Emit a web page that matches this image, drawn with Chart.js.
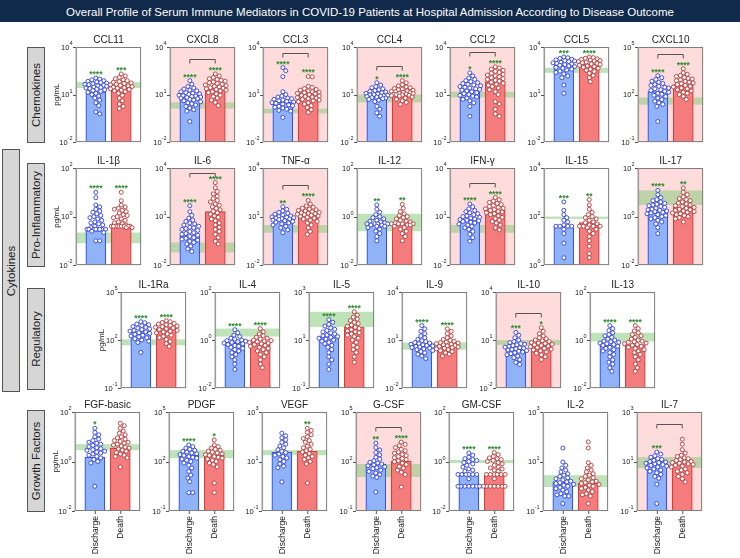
<!DOCTYPE html>
<html><head><meta charset="utf-8">
<script src="https://cdn.jsdelivr.net/npm/chart.js@4.4.0/dist/chart.umd.min.js"></script>
<style>
body{margin:0;width:740px;height:558px;position:relative;background:#fff;overflow:hidden;font-family:"Liberation Sans",Arial,sans-serif;}
#titlebar{position:absolute;left:0;top:0;width:740px;height:22px;background:#112a4b;}
#titletext{position:absolute;left:0;top:0;width:740px;height:22px;line-height:22px;text-align:center;color:#fff;white-space:nowrap;}
#titletext span{display:inline-block;font-size:12px;}
.sec{position:absolute;background:#d6d6d6;border:1px solid #555;box-sizing:border-box;}
.sec span{position:absolute;left:50%;top:50%;transform:translate(-50%,-50%) rotate(-90deg);white-space:nowrap;font-size:11.5px;color:#222;}
canvas{position:absolute;}
</style></head><body>
<div id="titlebar"></div>
<div id="titletext"><span id="tspan">Overall Profile of Serum Immune Mediators in COVID-19 Patients at Hospital Admission According to Disease Outcome</span></div>
<script>
// ---------------- DATA ----------------
const panelNames = ['CCL11','CXCL8','CCL3','CCL4','CCL2','CCL5','CXCL10',
  'IL-1β','IL-6','TNF-α','IL-12','IFN-γ','IL-15','IL-17',
  'IL-1Ra','IL-4','IL-5','IL-9','IL-10','IL-13',
  'FGF-basic','PDGF','VEGF','G-CSF','GM-CSF','IL-2','IL-7'];
const groupLabels = ['Discharge','Death'];
const sectionLabels = ['Chemokines','Pro-Inflammatory','Regulatory','Growth Factors'];
const superLabel = 'Cytokines';
const unitLabel = 'pg/mL';
const axisMinExp = [-2,-2,-2,-2,-2,-2,-1, -2,-2,-2,-2,-2,0,-2, -1,-2,-1,-2,-2,-2, -2,-1,-1,-1,-2,-1,-1];
const axisMaxExp = [ 4, 4, 4, 4, 4, 4, 5,  2, 4, 4, 2, 4,4, 2,  5, 2, 3, 4, 4, 2,  2, 5, 3, 5, 2, 3, 3];
const barDischarge = [15,6.5,3.2,7.5,20,750,155, 0.3,0.67,8,0.47,6.3,40,1.9, 340,0.8,14,4.6,2.6,0.65, 1.5,245,24,70,0.28,1.5,9.8];
const barDeath     = [27,27,16,11.5,65,870,420, 0.43,20,20,0.5,25,56,2.5, 600,0.85,35,4.6,5,0.65, 3.5,240,26,107,0.28,1.35,8.7];
const refLow  = [26,1.3,0.65,3.2,6.5,235,23, 0.08,0.06,1,0.25,1,80,3, 47,1.4,35,2.5,5,0.87, 2.9,160,18,11.5,0.87,0.93,5.5];
const refHigh = [60,3.2,1.3,10,15,490,65, 0.22,0.25,3,1.3,3,100,12, 110,3,150,7,10,2, 5,500,29,70,1.15,2.8,15];
const starsDischarge = ['****','****','****','*','*','***','****', '****','****','**','**','****','***','****', '****','****','****','****','***','****', '*','****','','**','****','','***'];
const starsDeath     = ['***','****','****','****','****','****','****', '****','****','****','**','****','**','**', '****','****','****','****','*','****', '','*','**','****','****','',''];
const bracketShown = [0,1,1,1,1,0,1, 0,1,1,0,1,0,0, 0,0,0,0,1,0, 0,0,0,1,0,0,1];
const highlighted  = [0,1,1,1,1,0,1, 0,1,1,0,1,0,1, 0,0,0,0,1,0, 0,0,0,1,0,0,1];
const pointsDischarge = [
 [110,95,85,75,68,62,57,52,48,45,42,39,36,33,30,28,26,24,22,20,18,16,14,12,10,8,6,4.5,3,2,0.8,0.6],
 [75,45,32,26,22,19,17,15,13,12,11,10,9,8.5,8,7.5,7,6.5,6,5.5,5,4.5,4,3.5,3,2.6,2.2,1.8,1.4,1.1,0.9,0.2],
 [500,320,135,15,10,8,7,6,5.5,5,4.5,4,3.7,3.4,3.1,2.8,2.5,2.2,2,1.8,1.6,1.4,1.2,1,0.9,0.36],
 [56,40,32,27,23,20,18,16,14.5,13,12,11,10,9.5,9,8.5,8,7.5,7,6.5,6,5.5,5,4.4,3.6,1.8,1.2,0.7,0.43],
 [235,150,110,90,75,65,56,50,44,40,36,32,29,26,23,21,19,17,15,13,11.5,10,9,8,7,6,5,4,3,1.8,0.43],
 [2350,2100,1900,1700,1550,1400,1300,1200,1100,1000,920,850,780,700,640,580,520,460,400,350,300,250,200,150,115,40,12],
 [1550,1150,900,700,600,500,430,380,330,290,260,230,200,180,160,140,120,105,90,75,60,48,38,30,24,18,2],
 [10,6,3,2.5,2,1.7,1.5,1.3,1.1,1,0.9,0.8,0.7,0.6,0.55,0.5,0.45,0.4,0.35,0.3,0.3,0.3,0.3,0.3,0.3,0.3,0.3,0.25,0.22,0.1,0.1],
 [47,20,12,8,6,5,4,3.5,3,2.5,2.2,2,1.8,1.6,1.4,1.2,1,0.9,0.8,0.7,0.6,0.5,0.45,0.4,0.35,0.3,0.25,0.2,0.15,0.1,0.07],
 [40,28,22,18,16,14,12.5,11,10,9.5,9,8.5,8,7.5,7,6.5,6,5.5,5,4.5,4,3.5,3,2.5,2,1.5,1],
 [3,2,1.5,1.2,1,0.9,0.8,0.7,0.65,0.6,0.55,0.5,0.5,0.5,0.5,0.45,0.45,0.4,0.4,0.35,0.3,0.25,0.2,0.15,0.1],
 [60,40,30,24,20,17,15,13,11,10,9,8,7,6.5,6,5.5,5,4.5,4,3.5,3,2.5,2,1.6,1.2,0.8,0.5,0.3],
 [400,180,120,90,70,60,45,40,40,40,40,30,20,8,2],
 [12,8,6,5,4.5,4,3.5,3.2,3,2.8,2.6,2.4,2.2,2,1.9,1.8,1.7,1.6,1.5,1.4,1.3,1.2,1.1,1,0.9,0.8,0.7,0.6,0.5,0.35,0.2],
 [1400,1200,1000,900,800,700,620,560,500,450,400,360,320,290,260,230,200,180,160,140,120,100,85,70,17],
 [2.7,2,1.6,1.4,1.2,1.1,1,0.95,0.9,0.85,0.8,0.75,0.7,0.65,0.6,0.55,0.5,0.45,0.4,0.35,0.3,0.25,0.2,0.15,0.1,0.06],
 [70,55,45,38,32,28,25,22,20,18,16,15,14,13,12,11,10,9,8,7,6,5,4,3,2,1.5,1,0.6],
 [80,50,35,25,18,14,11,9,8,7,6.5,6,5.5,5,4.6,4.3,4,3.7,3.4,3.1,2.8,2.5,2.2,1.9,1.6,1.3,1,0.7],
 [30,20,14,10,8,7,6,5.5,5,4.5,4,3.6,3.3,3,2.8,2.6,2.4,2.2,2,1.8,1.6,1.4,1.2,1,0.8,0.6,0.4,0.3],
 [4,3,2.5,2,1.7,1.5,1.3,1.1,1,0.9,0.85,0.8,0.75,0.7,0.65,0.6,0.55,0.5,0.45,0.4,0.35,0.3,0.25,0.2,0.15,0.12,0.1,0.07,0.05],
 [22,15,12,10,8,7,6,5.5,5,4.5,4,3.6,3.3,3,2.8,2.6,2.4,2.2,2,1.8,1.6,1.4,1.2,1,0.87,0.1],
 [1000,800,650,550,480,420,370,330,290,260,230,200,180,160,140,120,100,80,60,40,25,15,10,6,1.3,1.3],
 [140,110,90,75,60,50,42,36,30,26,23,20,18,16,14,12,10,8,6.5,5.6,1.5],
 [1300,700,500,350,250,180,140,110,90,80,70,62,55,48,42,36,30,25,20,16,13,11,1.4],
 [2.2,1.8,1.5,1.3,1.2,1.1,1,0.9,0.8,0.7,0.6,0.5,0.45,0.4,0.3,0.3,0.3,0.3,0.3,0.3,0.2,0.1,0.1,0.1,0.1,0.1,0.1,0.1],
 [35,9.5,7,5.5,4.5,3.8,3.2,2.8,2.5,2.2,2,1.8,1.6,1.5,1.4,1.3,1.2,1.1,1,0.9,0.8,0.7,0.6,0.5,0.45,0.4,0.4,0.2],
 [24,20,17,15,13,12,11,10,9.5,9,8.5,8,7.5,7,6.5,6,5.5,5,4.5,4,3.5,3,2.5,2.1,1.2,0.2]
];
const pointsDeath = [
 [200,150,120,100,85,75,66,60,54,49,45,41,38,35,32,29,27,25,23,21,19,17,15,12,9,6,4,2.5,1.8,1.3],
 [200,150,120,100,90,80,70,62,56,50,45,40,36,33,30,27,25,23,21,19,17,15,13,11,9,7.5,6,4.5,3.2,2],
 [138,132,33,28,24,21,19,17,15,14,13,12,11,10,9,8,7.5,7,6.5,6,5.5,5,4.5,4,3.5,3,2.5,2,1.5,1.1,0.75],
 [75,55,42,35,30,27,24,22,20,18.5,17,16,15,14,13,12,11.5,11,10.5,10,9.5,9,8.5,8,7,6,5,4,3.2,2.4],
 [560,480,400,340,290,250,220,190,170,150,130,115,100,90,80,70,60,52,45,38,32,26,20,15,10,3.6,2.5,1.2,0.6,0.43],
 [2350,2150,1950,1800,1650,1500,1400,1300,1200,1100,1000,920,850,780,700,640,580,520,460,400,340,280,220,160,115,65],
 [4200,2350,1900,1600,1400,1200,1050,950,850,760,680,600,540,480,430,380,340,300,260,230,200,170,140,120,100,75,49],
 [10,4.5,3,2.5,2.2,2,1.8,1.6,1.4,1.2,1.1,1,0.9,0.8,0.7,0.6,0.55,0.5,0.45,0.4,0.4,0.4,0.4,0.4,0.4,0.4,0.4,0.35,0.35],
 [1250,600,350,250,180,130,100,80,60,50,40,32,26,21,17,14,11,9,7,5.5,4,3,2.2,1.6,1.2,0.8,0.5,0.3,0.2],
 [100,60,45,38,33,29,26,24,22,20,18,17,16,15,14,13,12,11,10,9,8,7,6,5,4,3,2,1.2,0.8],
 [3.2,2.2,1.6,1.3,1.1,1,0.9,0.8,0.7,0.65,0.6,0.55,0.5,0.5,0.5,0.5,0.45,0.45,0.4,0.35,0.3,0.25,0.2,0.15,0.1],
 [150,110,90,75,65,55,48,42,37,33,30,27,24,21,19,17,15,13,11,9,7.5,6,5,4,3,2,1.5],
 [500,300,200,150,120,100,90,80,70,60,56,50,45,40,40,40,40,35,30,25,20,15,10,6,3,2],
 [15,10,8,6.5,5.5,5,4.5,4,3.6,3.3,3,2.8,2.6,2.4,2.2,2,1.9,1.8,1.7,1.6,1.5,1.4,1.3,1.2,1.1,1,0.9,0.8,0.6],
 [1600,1400,1250,1100,1000,900,820,750,680,620,560,500,450,400,360,320,280,240,200,170,140,110,80,60,40],
 [3,2.2,1.8,1.5,1.3,1.2,1.1,1,0.95,0.9,0.85,0.8,0.75,0.7,0.65,0.6,0.55,0.5,0.45,0.4,0.35,0.3,0.25,0.2,0.15,0.1,0.07],
 [150,110,90,75,65,55,48,42,38,34,30,27,24,22,20,18,16,14,12,10,8,6,5,4,3,2,1.2],
 [50,35,25,18,14,11,9.5,8.5,7.5,7,6.5,6,5.5,5,4.6,4.3,4,3.7,3.4,3.1,2.8,2.5,2.2,1.9,1.6,1.3,1],
 [60,35,25,18,14,12,10,9,8,7,6.5,6,5.5,5,4.6,4.2,3.8,3.4,3,2.7,2.4,2.1,1.8,1.5,1.2,0.9,0.6],
 [4,3,2.4,2,1.7,1.5,1.3,1.1,1,0.9,0.85,0.8,0.75,0.7,0.65,0.6,0.55,0.5,0.45,0.4,0.35,0.3,0.25,0.2,0.15,0.1,0.07,0.05],
 [35,28,22,17,14,12,10,9,8,7,6.5,6,5.5,5,4.6,4.2,3.8,3.5,3.2,2.9,2.6,2.3,2,1.8,1.6,1.4,0.6],
 [2000,1000,800,650,550,480,420,370,330,290,260,230,200,180,160,140,120,100,80,65,47,5,1.3],
 [220,180,150,120,100,85,70,60,50,42,36,31,27,24,21,18,16,14,12,10,8,1.35],
 [1500,1100,900,700,550,450,380,320,270,230,200,170,150,130,110,95,80,65,50,40,30,22,16,2.8],
 [2.3,1.9,1.6,1.4,1.3,1.2,1.1,1,0.9,0.8,0.7,0.6,0.55,0.5,0.45,0.4,0.3,0.3,0.3,0.3,0.3,0.3,0.2,0.1,0.1,0.1,0.1,0.1,0.1,0.1],
 [62,35,9,7,5.5,4.5,3.8,3.2,2.8,2.5,2.2,2,1.8,1.6,1.5,1.4,1.3,1.2,1.1,1,0.9,0.8,0.7,0.6,0.5,0.45,0.4,0.2],
 [80,50,30,22,18,16,14,13,12,11,10,9.5,9,8.5,8,7.5,7,6.5,6,5,4.5,4,3.5,3,2.5,2,1.5]
];

// ---------------- LAYOUT / STYLE ----------------
const FONT = '"Liberation Sans", Arial, sans-serif';
const BLUE_FILL='#90b2f6', BLUE_LINE='#3355ee', BLUE_PT='#2f3fdc';
const RED_FILL='#f57c7c', RED_LINE='#d83c3c', RED_PT='#b63838';
const PINK='#ffdcdc', BAND='rgba(125,200,115,0.5)', STAR='#2f8a2f';
const XMIN=0.22, XMAX=2.78, PW=66;
const rowTop=[47,168,292,412], rowH=[96,98,97,99];
const rowStart=[0,7,14,20];

// title fit
(function(){const s=document.getElementById('tspan');const w=s.getBoundingClientRect().width;s.style.fontSize=(12*608/w)+'px';})();

// section boxes
function addSec(text,l,t,w,h){const d=document.createElement('div');d.className='sec';d.style.left=l+'px';d.style.top=t+'px';d.style.width=w+'px';d.style.height=h+'px';const s=document.createElement('span');s.textContent=text;d.appendChild(s);document.body.appendChild(d);}
addSec(sectionLabels[0],27,47,18,96);
addSec(sectionLabels[1],27,163,18,104);
addSec(sectionLabels[2],27,288,18,102);
addSec(sectionLabels[3],27,410,18,102);
addSec(superLabel,2,149,18,243);

function geom(i){
  let r=3; for(let k=3;k>=0;k--){ if(i>=rowStart[k]){r=k;break;} }
  const c=i-rowStart[r];
  const L = r===2 ? 121+93.8*c : (r===3?75:76)+93.6*c;
  return {r,c,L:Math.round(L),T:rowTop[r],H:rowH[r]};
}

function swarm(vals, lo, hi, H, center){
  const minD=4.0, maxOff=11, ppu=PW/(XMAX-XMIN);
  const idx=vals.map((v,k)=>k).sort((a,b)=>vals[b]-vals[a]);
  const placed=[]; const out=[];
  const cands=[0]; for(let s=1;s<=maxOff;s++){cands.push(s,-s);}
  for(const k of idx){
    const py=H*(hi-Math.log10(vals[k]))/(hi-lo);
    let best=0,bestD=-1;
    for(const o of cands){
      let md=1e9; for(const p of placed){const d=Math.hypot(p.x-o,p.y-py); if(d<md)md=d;}
      if(md>=minD){best=o;bestD=md;break;}
      if(md>bestD){bestD=md;best=o;}
    }
    placed.push({x:best,y:py});
    out.push({x:center+best/ppu,y:vals[k]});
  }
  return out;
}

function drawTen(ctx,xr,y,e){
  ctx.textBaseline='middle'; ctx.textAlign='right';
  const es=String(e);
  ctx.font='5.5px '+FONT; const ew=ctx.measureText(es).width;
  ctx.fillText(es,xr,y-3.5);
  ctx.font='7.5px '+FONT; ctx.fillText('10',xr-ew,y+0.5);
}

function makePanel(i){
  const g=geom(i); const lo=axisMinExp[i], hi=axisMaxExp[i];
  const padL=36,padT=24,padR=4,padB=(g.r===3?50:4);
  const cv=document.createElement('canvas');
  cv.width=PW+padL+padR; cv.height=g.H+padT+padB;
  cv.style.left=(g.L-padL)+'px'; cv.style.top=(g.T-padT)+'px';
  cv.style.width=cv.width+'px'; cv.style.height=cv.height+'px';
  document.body.appendChild(cv);
  const sD=swarm(pointsDischarge[i],lo,hi,g.H,1);
  const sX=swarm(pointsDeath[i],lo,hi,g.H,2);
  const plugin={id:'panel'+i,
    beforeDatasetsDraw(chart){
      const {ctx,chartArea:a,scales:{y}}=chart; ctx.save();
      if(highlighted[i]){ctx.fillStyle=PINK;ctx.fillRect(a.left,a.top,a.right-a.left,a.bottom-a.top);}
      const y1=y.getPixelForValue(refHigh[i]), y2=y.getPixelForValue(refLow[i]);
      ctx.fillStyle=BAND; ctx.fillRect(a.left,y1,a.right-a.left,y2-y1);
      ctx.restore();
    },
    afterDatasetsDraw(chart){
      const {ctx,chartArea:a,scales:{x,y}}=chart; ctx.save();
      ctx.strokeStyle='#7d7d7d'; ctx.lineWidth=1;
      ctx.strokeRect(a.left+0.5,a.top+0.5,a.right-a.left-1,a.bottom-a.top-1);
      ctx.strokeStyle='#9a9a9a'; ctx.lineWidth=1.6;
      ctx.beginPath(); ctx.moveTo(a.left+0.3,a.top); ctx.lineTo(a.left+0.3,a.bottom); ctx.stroke();
      ctx.fillStyle='#222'; ctx.strokeStyle='#555'; ctx.lineWidth=1;
      const mid=(lo+hi)/2;
      [hi,mid,lo].forEach(e=>{
        const py=y.getPixelForValue(Math.pow(10,e));
        ctx.beginPath(); ctx.moveTo(a.left-3,Math.round(py)+0.5); ctx.lineTo(a.left,Math.round(py)+0.5); ctx.stroke();
        drawTen(ctx,a.left-3.5,py,e);
      });
      ctx.fillStyle=STAR; ctx.font='bold 8.5px '+FONT; ctx.textAlign='center'; ctx.textBaseline='alphabetic';
      const sy=[];
      [[pointsDischarge[i],starsDischarge[i],1],[pointsDeath[i],starsDeath[i],2]].forEach(([pts,st,cx])=>{
        const py=y.getPixelForValue(Math.max(...pts))-3;
        sy.push(py);
        if(st) ctx.fillText(st,x.getPixelForValue(cx),py+2);
      });
      if(bracketShown[i]){
        const by=Math.round(Math.max(a.top+5,Math.min(...sy)-12))+0.5;
        const x1=x.getPixelForValue(1), x2=x.getPixelForValue(2);
        ctx.strokeStyle='#555'; ctx.lineWidth=1;
        ctx.beginPath(); ctx.moveTo(x1,by+4); ctx.lineTo(x1,by); ctx.lineTo(x2,by); ctx.lineTo(x2,by+4); ctx.stroke();
      }
      ctx.fillStyle='#222'; ctx.font='10px '+FONT; ctx.textAlign='center'; ctx.textBaseline='middle';
      ctx.fillText(panelNames[i],(a.left+a.right)/2,a.top-7);
      if(g.c===0){
        ctx.save(); ctx.translate(a.left-19,(a.top+a.bottom)/2); ctx.rotate(-Math.PI/2);
        ctx.font='8px '+FONT; ctx.fillText(unitLabel,0,0); ctx.restore();
      }
      if(g.r===3){
        ctx.strokeStyle='#555';
        [1,2].forEach((cx,k)=>{
          const px=x.getPixelForValue(cx);
          ctx.beginPath(); ctx.moveTo(px+0.5,a.bottom); ctx.lineTo(px+0.5,a.bottom+3); ctx.stroke();
          ctx.save(); ctx.translate(px,a.bottom+5); ctx.rotate(-Math.PI/2);
          ctx.font='8.5px '+FONT; ctx.textAlign='right'; ctx.textBaseline='middle'; ctx.fillStyle='#222';
          ctx.fillText(groupLabels[k],0,0.5); ctx.restore();
        });
      }
      ctx.restore();
    }
  };
  new Chart(cv,{
    type:'bar',
    data:{datasets:[
      {type:'bar',data:[{x:1,y:barDischarge[i]},{x:2,y:barDeath[i]}],backgroundColor:[BLUE_FILL,RED_FILL],borderColor:[BLUE_LINE,RED_LINE],borderWidth:1.2,barThickness:20,order:3},
      {type:'scatter',data:sD,pointRadius:2.0,pointBackgroundColor:'#fff',pointBorderColor:BLUE_PT,pointBorderWidth:0.9,order:1},
      {type:'scatter',data:sX,pointRadius:2.0,pointBackgroundColor:'#fff',pointBorderColor:RED_PT,pointBorderWidth:0.9,order:1}
    ]},
    options:{responsive:false,animation:false,devicePixelRatio:1,
      layout:{padding:{left:padL,top:padT,right:padR,bottom:padB}},
      scales:{x:{type:'linear',min:XMIN,max:XMAX,display:false,offset:false},
              y:{type:'logarithmic',min:Math.pow(10,lo),max:Math.pow(10,hi),display:false}},
      plugins:{legend:{display:false},tooltip:{enabled:false},title:{display:false}}
    },
    plugins:[plugin]
  });
}
for(let i=0;i<panelNames.length;i++) makePanel(i);
</script>
</body></html>
